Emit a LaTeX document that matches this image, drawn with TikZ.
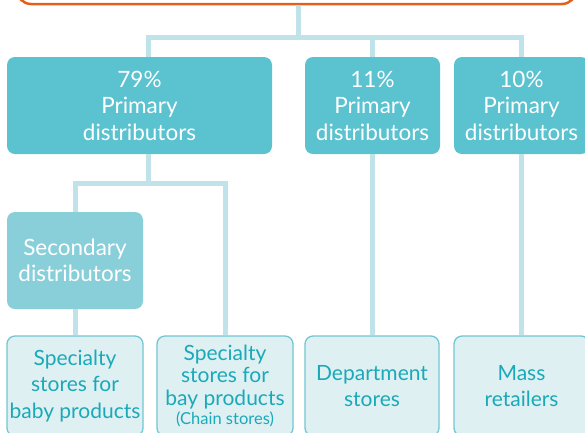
\documentclass[tikz,border=0pt]{standalone}
\usepackage{fontspec}
\setmainfont{Lato}
\definecolor{headorange}{HTML}{E4601A}
\definecolor{primteal}{HTML}{5BC2CF}
\definecolor{secteal}{HTML}{88CFD9}
\definecolor{linkblue}{HTML}{BFE3E9}
\definecolor{shopfill}{HTML}{DFF0F3}
\definecolor{shopline}{HTML}{72C6D1}
\definecolor{shoptext}{HTML}{1AA9B8}
\tikzset{
  box/.style={rounded corners=8pt, align=center, inner sep=0pt, minimum height=97pt},
  head/.style={draw=headorange, line width=2.5pt, rounded corners=14pt, fill=white},
  prim/.style={box, fill=primteal, text=white, font=\fontsize{22.5}{26.5}\selectfont},
  second/.style={box, fill=secteal, text=white, font=\fontsize{22.5}{26.5}\selectfont},
  shop/.style={box, minimum height=100pt, draw=shopline, line width=1.3pt, fill=shopfill,
    text=shoptext, font=\fontsize{21}{26.5}\selectfont},
  link/.style={draw=linkblue, line width=5pt, line join=miter}
}
\begin{document}
\begin{tikzpicture}[x=1pt,y=-1pt]
\useasboundingbox (0,0) rectangle (585,432);
\clip (0,0) rectangle (585,432);
% top box
\node[head, minimum width=559pt, minimum height=50pt] (head) at (296.5,-21) {};
% primary distributors
\node[prim, minimum width=265pt] (p1) at (139.5,105.5) {79\%\\Primary\\distributors};
\node[prim, minimum width=135pt] (p2) at (372.5,105.5) {11\%\\Primary\\distributors};
\node[prim, minimum width=135pt] (p3) at (521.5,105.5) {10\%\\Primary\\distributors};
% secondary
\node[second, minimum width=136pt] (sec) at (75,260.5) {Secondary\\distributors};
% shops
\node[shop, minimum width=136pt] (b1) at (75,386) {Specialty\\stores for\\baby products};
\node[shop, minimum width=136pt, font=\fontsize{21}{22.5}\selectfont] (b2) at (225,386)
  {Specialty\\stores for\\bay products\\[-3pt]{\fontsize{16.5}{15}\selectfont(Chain stores)}};
\node[shop, minimum width=134pt] (b3) at (372,386) {Department\\stores};
\node[shop, minimum width=135pt] (b4) at (521.5,386) {Mass\\retailers};
% connectors
\coordinate (j1) at (298,37);
\coordinate (j2) at (148,183);
\draw[link] (head.south -| j1) -- (j1);
\draw[link] ([xshift=8.5pt]p1.north) |- (j1) -| (p3.north);
\draw[link] (p2.north |- j1) -- (p2.north);
\draw[link] ([xshift=8.5pt]p1.south) -- (j2);
\draw[link] (sec.north) |- (j2) -| (b2.north);
\draw[link] (sec.south) -- (b1.north);
\draw[link] (p2.south) -- (p2.south |- b3.north);
\draw[link] (p3.south) -- (p3.south |- b4.north);
\end{tikzpicture}
\end{document}
